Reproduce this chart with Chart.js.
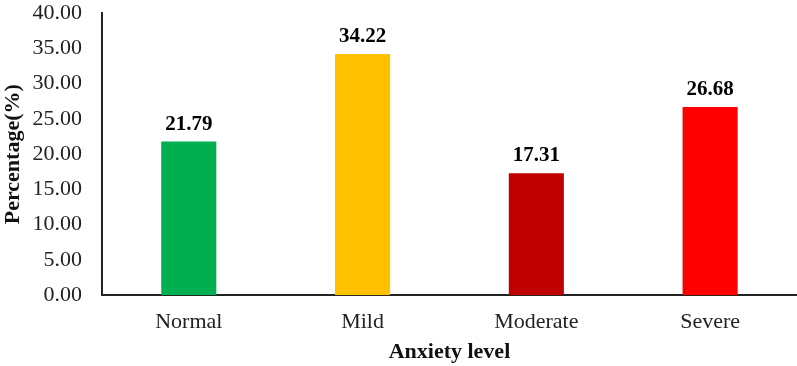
<!DOCTYPE html>
<html lang="en">
<head>
  <meta charset="UTF-8" />
  <title>Anxiety level</title>
  <script src="https://cdn.jsdelivr.net/npm/chart.js"></script>
  <style>
    html, body { margin: 0; padding: 0; background: #fff; }
    #wrap { width: 797px; height: 366px; }
  </style>
</head>
<body>
  <div id="wrap"><canvas id="anxietyChart"></canvas></div>

  <script>
    const levels = ['Normal', 'Mild', 'Moderate', 'Severe'];
    const percentages = [21.79, 34.22, 17.31, 26.68];
    const barColors = ['#00B050', '#FFC000', '#C00000', '#FF0000'];

    const serif = '"Liberation Serif", "Times New Roman", serif';

    // value labels above each bar
    const valueLabels = {
      id: 'valueLabels',
      afterDatasetsDraw(chart) {
        const ctx = chart.ctx;
        const meta = chart.getDatasetMeta(0);
        ctx.save();
        ctx.font = 'bold 21px ' + serif;
        ctx.fillStyle = '#000';
        ctx.textAlign = 'center';
        ctx.textBaseline = 'alphabetic';
        meta.data.forEach((bar, i) => {
          ctx.fillText(percentages[i].toFixed(2), bar.x, bar.y - 12);
        });
        ctx.restore();
      }
    };

    new Chart(document.getElementById('anxietyChart'), {
      type: 'bar',
      data: {
        labels: levels,
        datasets: [{
          data: percentages,
          backgroundColor: barColors,
          categoryPercentage: 1,
          barPercentage: 0.317
        }]
      },
      options: {
        responsive: true,
        maintainAspectRatio: false,
        animation: false,
        layout: { padding: { top: 0, right: 0, bottom: 0, left: 0 } },
        plugins: {
          legend: { display: false },
          tooltip: { enabled: false }
        },
        scales: {
          x: {
            grid: { display: false, tickLength: 14 },
            border: { display: true, color: '#222', width: 2 },
            ticks: { color: '#222', font: { family: serif, size: 22 }, padding: 0 },
            title: {
              display: true,
              text: 'Anxiety level',
              color: '#111',
              font: { family: serif, size: 22, weight: 'bold' },
              padding: { top: 4, bottom: 0 }
            }
          },
          y: {
            min: 0,
            max: 40,
            grid: { display: false, tickLength: 20 },
            border: { display: true, color: '#222', width: 2 },
            ticks: {
              stepSize: 5,
              color: '#222',
              font: { family: serif, size: 22 },
              padding: 0,
              callback: v => Number(v).toFixed(2)
            },
            title: {
              display: true,
              text: 'Percentage(%)',
              color: '#111',
              font: { family: serif, size: 22, weight: 'bold' },
              padding: { top: 0, bottom: 6 }
            }
          }
        }
      },
      plugins: [valueLabels]
    });
  </script>
</body>
</html>
